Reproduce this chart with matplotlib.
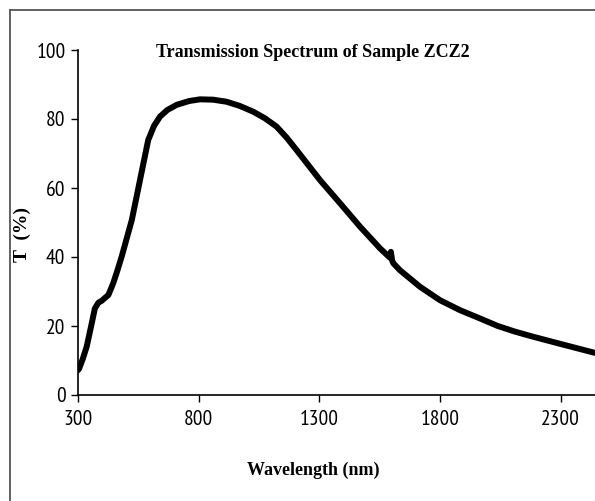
import matplotlib
matplotlib.use("Agg")
import matplotlib.pyplot as plt
from matplotlib.lines import Line2D
import logging
logging.getLogger("matplotlib.font_manager").setLevel(logging.ERROR)

wavelength = [300, 305, 320, 336, 357, 370, 385, 398, 426, 446, 462, 481, 523, 557, 591, 615,
              640, 670, 709, 760, 806, 860, 916, 970, 1027, 1075, 1123, 1165, 1206, 1303, 1386,
              1469, 1552, 1593, 1597, 1602, 1607, 1634, 1717, 1800, 1883, 1966, 2040, 2110,
              2186, 2300, 2443]
transmission = [7.2, 7.7, 10.5, 14.0, 20.8, 25.1, 26.8, 27.3, 29.0, 32.4, 35.8, 40.1, 50.7, 62.3,
                73.9, 78.0, 80.7, 82.6, 84.1, 85.2, 85.7, 85.6, 85.0, 83.8, 82.1, 80.2, 77.8,
                74.6, 71.0, 62.3, 55.6, 48.8, 42.5, 39.8, 41.5, 39.0, 38.2, 36.2, 31.4, 27.5,
                24.6, 22.2, 20.0, 18.4, 16.9, 14.8, 12.2]
xticks = [300, 800, 1300, 1800, 2300]
yticks = [0, 20, 40, 60, 80, 100]

W, H = 595, 501
fig = plt.figure(figsize=(W / 100, H / 100), dpi=100)
fig.patch.set_facecolor("white")

ax = fig.add_axes([78 / W, 1 - 395 / H, 1 - 78 / W, (395 - 50) / H])
ax.plot(wavelength, transmission, color="black", lw=4.3, solid_capstyle="round",
        solid_joinstyle="round")
ax.set_xlim(300, 2443)
ax.set_ylim(0, 100)
ax.set_xticks(xticks)
ax.set_yticks(yticks)
for s in ["top", "right"]:
    ax.spines[s].set_visible(False)
for s in ["left", "bottom"]:
    ax.spines[s].set_linewidth(1.2)
tickfont = ["Liberation Sans Narrow", "Arial Narrow", "PT Sans Narrow", "Archivo Narrow",
            "Roboto Condensed", "Liberation Sans"]
ax.tick_params(axis="both", direction="out", length=5, width=1.0, labelsize=15.5)
ax.tick_params(axis="x", pad=6)
ax.tick_params(axis="y", pad=4)
for lab in ax.get_xticklabels() + ax.get_yticklabels():
    lab.set_family(tickfont)

serif = ["Liberation Serif", "DejaVu Serif"]
fig.text(313 / W, 1 - 57 / H, "Transmission Spectrum of Sample ZCZ2", ha="center",
         va="baseline", fontsize=13, fontweight="bold", family=serif)
fig.text(313 / W, 1 - 475 / H, "Wavelength (nm)", ha="center", va="baseline",
         fontsize=13, fontweight="bold", family=serif)
fig.text(22 / W, 1 - 235 / H, "T  (%)", ha="center", va="center", rotation=90,
         fontsize=14, fontweight="bold", family=serif)

# outer frame (top and left edges visible)
fig.add_artist(Line2D([10 / W, 10 / W], [1 - 10 / H, 0], transform=fig.transFigure,
                      color="#555555", lw=1.3))
fig.add_artist(Line2D([10 / W, 1], [1 - 10 / H, 1 - 10 / H], transform=fig.transFigure,
                      color="#555555", lw=1.3))

fig.savefig("out.png", dpi=100)
